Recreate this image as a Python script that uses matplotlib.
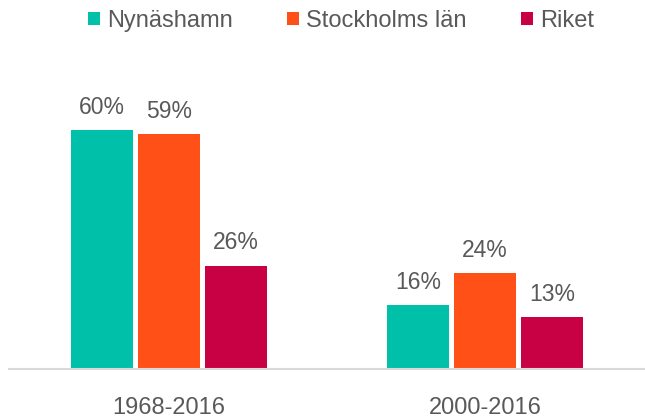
import matplotlib.pyplot as plt
import numpy as np

plt.rcParams['font.family'] = ['Liberation Sans', 'DejaVu Sans']

periods = ["1968-2016", "2000-2016"]
series = ["Nynäshamn", "Stockholms län", "Riket"]
values = {
    "Nynäshamn": [60, 16],
    "Stockholms län": [59, 24],
    "Riket": [26, 13],
}
colors = ["#00C0AA", "#FF5018", "#C80044"]
text_col = "#595959"

fig = plt.figure(figsize=(6.45, 4.18), dpi=100)
ax = fig.add_axes([9 / 645, 49 / 418, 636 / 645, 318.4 / 418])

x = np.arange(len(periods))
width = 0.196
step = 0.212
for i, name in enumerate(series):
    bars = ax.bar(x + (i - 1) * step, values[name], width, color=colors[i], label=name)
    for b, v in zip(bars, values[name]):
        ax.annotate(f"{v}%", (b.get_x() + b.get_width() / 2, b.get_height()),
                    xytext=(0, 8), textcoords="offset points",
                    ha="center", va="bottom", fontsize=16.5, color=text_col)

ax.set_xlim(-0.505, 1.505)
ax.set_ylim(0, 80)
ax.set_xticks(x)
ax.set_xticklabels(periods, fontsize=17, color=text_col)
ax.tick_params(axis="x", length=0, pad=20)
ax.set_yticks([])
for s in ["top", "right", "left"]:
    ax.spines[s].set_visible(False)
ax.spines["bottom"].set_color("#D9D9D9")
ax.spines["bottom"].set_linewidth(1.5)

leg = fig.legend(loc="center", bbox_to_anchor=(341 / 645, 1 - 21 / 418), ncol=3, frameon=False,
                 fontsize=17, handlelength=0.5, handleheight=0.5, handletextpad=0.3,
                 columnspacing=2.3)
for t in leg.get_texts():
    t.set_color(text_col)

fig.savefig("out.png", dpi=100)
